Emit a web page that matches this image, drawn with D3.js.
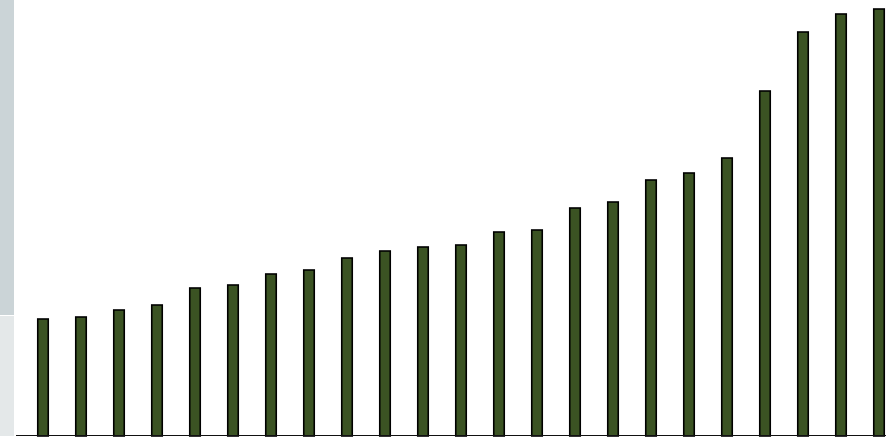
<!DOCTYPE html>
<html>
<head>
<meta charset="utf-8">
<script src="https://cdn.jsdelivr.net/npm/d3@7"></script>
<style>
  html, body { margin: 0; padding: 0; background: #ffffff; overflow: hidden; }
  svg { display: block; }
</style>
</head>
<body>
<svg id="chart" width="886" height="437"></svg>
<script>
// Data (relative bar heights)
const categories = ["1","2","3","4","5","6","7","8","9","10","11","12","13","14","15","16","17","18","19","20","21","22","23"];
const values = [117, 119, 126, 131, 148, 151, 162, 166, 178, 185, 189, 191, 204, 206, 228, 234, 256, 263, 278, 345, 404, 422, 427];
const yDomain = [0, 436];
// Left side strip bands (value ranges on the same y scale)
const stripBands = [
  { from: 121, to: 436, color: "#cbd4d7" },
  { from: 0, to: 120, color: "#e4e8e9" }
];

const W = 886, H = 437;
const svg = d3.select("#chart");

const x = d3.scaleBand()
  .domain(categories)
  .range([11, 911])
  .paddingInner(26 / 38)
  .paddingOuter(26 / 38);

const y = d3.scaleLinear().domain(yDomain).range([436, 0]);

// strip
svg.append("g").selectAll("rect")
  .data(stripBands)
  .join("rect")
  .attr("x", 0)
  .attr("width", 14)
  .attr("y", d => y(d.to))
  .attr("height", d => y(d.from) - y(d.to))
  .attr("fill", d => d.color);

// bars
svg.append("g").selectAll("rect")
  .data(values)
  .join("rect")
  .attr("x", (d, i) => x(categories[i]) + 0.75)
  .attr("width", x.bandwidth() - 1.5)
  .attr("y", d => y(d))
  .attr("height", d => y(0) - y(d))
  .attr("fill", "#3b5323")
  .attr("stroke", "#000")
  .attr("stroke-width", 1.6);

// baseline
svg.append("line")
  .attr("x1", 16).attr("x2", W)
  .attr("y1", y(0) - 0.5).attr("y2", y(0) - 0.5)
  .attr("stroke", "#111")
  .attr("stroke-width", 1);
</script>
</body>
</html>
